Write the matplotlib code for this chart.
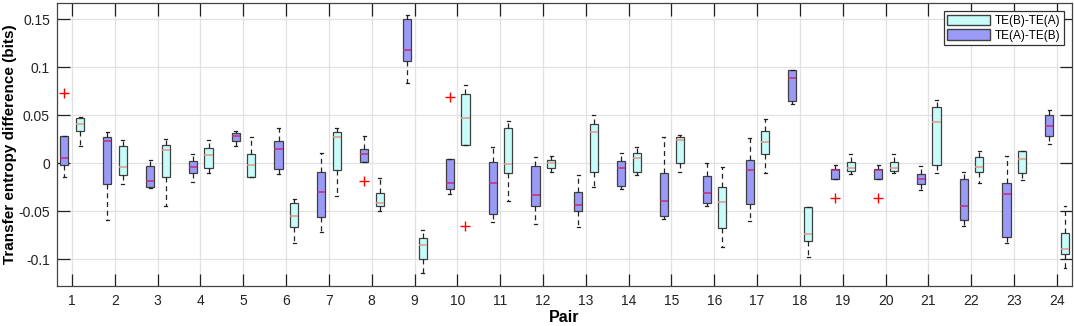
import matplotlib.pyplot as plt
from matplotlib.patches import Patch

plt.rcParams["font.family"] = ["Liberation Sans", "DejaVu Sans"]

pairs = list(range(1, 25))

# TE(A)-TE(B) (purple)
ab_whislo = [-0.0139, -0.059, -0.0257, -0.0191, 0.0175, -0.0111, -0.0712, 0.0014, 0.084, -0.0323, -0.0615, -0.0635,
             -0.066, -0.0267, -0.058, -0.0451, -0.060, 0.0615, -0.0163, -0.0163, -0.0278, -0.0653, -0.0833, 0.0198]
ab_q1 = [-0.0014, -0.0215, -0.0253, -0.0097, 0.023, -0.0063, -0.0556, 0.0014, 0.1066, -0.0271, -0.0531, -0.0451,
         -0.0493, -0.0236, -0.0552, -0.0417, -0.0427, 0.0649, -0.0163, -0.0163, -0.0219, -0.059, -0.0771, 0.0285]
ab_med = [0.0052, 0.0233, -0.0184, -0.0038, 0.028, 0.0153, -0.0302, 0.0101, 0.118, -0.0205, -0.0201, -0.0333,
          -0.0431, -0.0045, -0.0389, -0.0306, -0.0073, 0.0885, -0.0073, -0.0073, -0.0163, -0.0448, -0.0326, 0.0389]
ab_q3 = [0.0285, 0.0278, -0.0028, 0.0024, 0.031, 0.0233, -0.0094, 0.0146, 0.15, 0.0045, 0.0017, -0.0024,
         -0.0302, 0.0028, -0.0101, -0.0135, 0.0035, 0.0976, -0.0059, -0.0059, -0.0115, -0.0163, -0.0205, 0.0507]
ab_whishi = [0.0285, 0.0326, 0.0035, 0.0097, 0.034, 0.0365, 0.0104, 0.0288, 0.1545, 0.0045, 0.017, 0.0063,
             -0.0122, 0.0104, 0.0278, 0.0, 0.026, 0.0976, -0.0014, -0.0014, -0.0024, -0.009, 0.0076, 0.0556]
ab_fliers = {1: [0.0736], 8: [-0.0188], 10: [0.069], 19: [-0.0361], 20: [-0.0361]}

# TE(B)-TE(A) (cyan)
ba_whislo = [0.0184, -0.0215, -0.0451, -0.0104, -0.0139, -0.0833, -0.034, -0.0493, -0.1146, 0.0191, -0.0392, -0.0094,
             -0.025, -0.0122, -0.0087, -0.0868, -0.0104, -0.0979, -0.0111, -0.0104, -0.0104, -0.0201, -0.0177, -0.1087]
ba_q1 = [0.034, -0.0128, -0.0139, -0.0052, -0.0139, -0.066, -0.0069, -0.0451, -0.0997, 0.0191, -0.0104, -0.0052,
         -0.009, -0.009, 0.0, -0.067, 0.0094, -0.0806, -0.0083, -0.0083, -0.0014, -0.0094, -0.0097, -0.0948]
ba_med = [0.041, -0.0042, 0.0135, 0.0083, -0.0017, -0.0549, 0.0274, -0.0417, -0.085, 0.0476, -0.001, 0.0,
          0.0323, 0.0059, 0.024, -0.0403, 0.0226, -0.0736, -0.0052, -0.0052, 0.0434, -0.0035, 0.0049, -0.0889]
ba_q3 = [0.0469, 0.018, 0.0188, 0.0156, 0.0097, -0.0417, 0.033, -0.0306, -0.0778, 0.0726, 0.0368, 0.0031,
         0.0406, 0.0111, 0.0271, -0.0253, 0.0337, -0.0458, 0.001, 0.001, 0.0587, 0.0063, 0.0128, -0.0722]
ba_whishi = [0.0486, 0.0243, 0.025, 0.0243, 0.027, -0.0375, 0.0365, -0.0149, -0.0701, 0.082, 0.0438, 0.0076,
             0.0507, 0.0174, 0.0299, -0.0035, 0.0465, -0.0458, 0.0094, 0.0094, 0.066, 0.0132, 0.0128, -0.0441]
ba_fliers = {10: [-0.065]}


def make_stats(lo, q1, med, q3, hi, fliers):
    return [dict(whislo=lo[i], q1=q1[i], med=med[i], q3=q3[i], whishi=hi[i],
                 fliers=fliers.get(p, [])) for i, p in enumerate(pairs)]


fig = plt.figure(figsize=(10.74, 3.26), dpi=100)
ax = fig.add_axes([0.053, 0.124, 0.945, 0.867])

purple = "#9a9af7"
cyan = "#c8fcf8"
edge = "#404040"

series = [
    (make_stats(ab_whislo, ab_q1, ab_med, ab_q3, ab_whishi, ab_fliers), -0.175, purple, "#c0307a"),
    (make_stats(ba_whislo, ba_q1, ba_med, ba_q3, ba_whishi, ba_fliers), 0.19, cyan, "#e09a88"),
]
for stats, off, face, medc in series:
    ax.bxp(stats, positions=[p + off for p in pairs], widths=0.19, capwidths=0.07,
           patch_artist=True, manage_ticks=False,
           boxprops=dict(facecolor=face, edgecolor=edge, linewidth=0.9),
           medianprops=dict(color=medc, linewidth=1.1),
           whiskerprops=dict(color="#222222", linestyle=(0, (4, 3)), linewidth=0.9),
           capprops=dict(color="#222222", linewidth=0.9),
           flierprops=dict(marker="+", markeredgecolor="red", markersize=7, markeredgewidth=1.0))

ax.set_xlim(0.65, 24.35)
ax.set_ylim(-0.1275, 0.167)
ax.set_xticks(pairs)
ax.set_xticklabels([str(p) for p in pairs])
ax.set_yticks([-0.1, -0.05, 0, 0.05, 0.1, 0.15])
ax.set_yticklabels(["-0.1", "-0.05", "0", "0.05", "0.1", "0.15"])
ax.tick_params(direction="in", length=9, width=0.9, top=True, right=True, labelsize=10, colors="#222222")
ax.tick_params(axis="x", pad=6)
ax.tick_params(axis="y", pad=5)
ax.grid(True, color="#e2e2e2", linewidth=0.9)
ax.set_axisbelow(True)
for s in ax.spines.values():
    s.set_color("#444444")
    s.set_linewidth(0.9)

ax.set_xlabel("Pair", fontsize=11.5, fontweight="bold")
ax.xaxis.set_label_coords(0.5, -0.085)
ax.set_ylabel("Transfer entropy difference (bits)", fontsize=11, fontweight="bold")
ax.yaxis.set_label_coords(-0.0395, 0.5)

handles = [Patch(facecolor=cyan, edgecolor=edge, label="TE(B)-TE(A)"),
           Patch(facecolor=purple, edgecolor=edge, label="TE(A)-TE(B)")]
leg = ax.legend(handles=handles, loc="upper right", fontsize=8.5, fancybox=False, framealpha=1,
                edgecolor="#333333", borderaxespad=0.7, handlelength=3.6, handleheight=1.0,
                handletextpad=0.4, borderpad=0.3, labelspacing=0.2)
leg.get_frame().set_linewidth(0.9)

fig.savefig("out.png", dpi=100)
